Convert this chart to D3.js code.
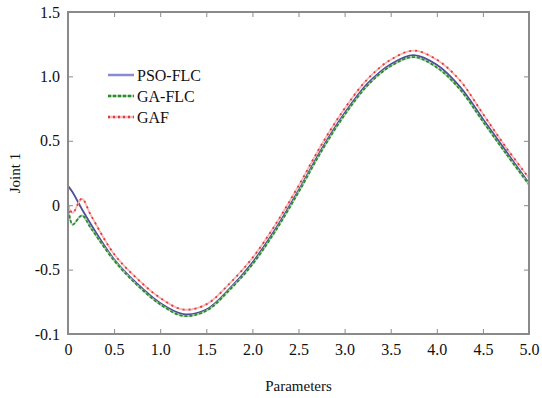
<!DOCTYPE html>
<html>
<head>
<meta charset="utf-8">
<script src="https://cdn.jsdelivr.net/npm/d3@7"></script>
<style>
  body { margin: 0; background: #fff; }
  text { font-family: "Liberation Serif", "Times New Roman", serif; fill: #111; }
</style>
</head>
<body>
<svg id="chart"></svg>
<script>
// valores
const tValues = [0, 0.05, 0.15, 0.25, 0.5, 0.75, 1.0, 1.25, 1.5, 1.75, 2.0, 2.25, 2.5,
  2.75, 3.0, 3.25, 3.5, 3.75, 4.0, 4.25, 4.5, 4.75, 5.0];
const psoFlc = [0.15, 0.10, -0.03, -0.15, -0.42, -0.61, -0.76, -0.845, -0.81, -0.65, -0.445, -0.185, 0.115,
  0.435, 0.715, 0.945, 1.095, 1.165, 1.09, 0.92, 0.67, 0.42, 0.17];
const gaFlc = [0.0, -0.15, -0.08, -0.18, -0.43, -0.62, -0.77, -0.86, -0.82, -0.66, -0.46, -0.20, 0.10,
  0.42, 0.70, 0.93, 1.08, 1.15, 1.07, 0.90, 0.65, 0.40, 0.16];
const gaf = [0.0, -0.06, 0.05, -0.08, -0.38, -0.57, -0.72, -0.81, -0.77, -0.61, -0.41, -0.15, 0.15,
  0.47, 0.75, 0.98, 1.13, 1.20, 1.13, 0.97, 0.71, 0.45, 0.21];

const xTicks = [0, 0.5, 1.0, 1.5, 2.0, 2.5, 3.0, 3.5, 4.0, 4.5, 5.0];
const xTickLabels = ["0", "0.5", "1.0", "1.5", "2.0", "2.5", "3.0", "3.5", "4.0", "4.5", "5.0"];
const yTicks = [-1.0, -0.5, 0, 0.5, 1.0, 1.5];
const yTickLabels = ["-0.1", "-0.5", "0", "0.5", "1.0", "1.5"];
const seriesNames = ["PSO-FLC", "GA-FLC", "GAF"];

const width = 542;
const height = 398;
const mLeft = 68, mRight = 529, mTop = 12, mBottom = 334;

const svg = d3.select("#chart")
  .attr("width", width)
  .attr("height", height);

const xScale = d3.scaleLinear().domain([0, 5]).range([mLeft, mRight]);
const yScale = d3.scaleLinear().domain([-1, 1.5]).range([mBottom, mTop]);

const line = d3.line()
  .x(d => xScale(d[0]))
  .y(d => yScale(d[1]))
  .curve(d3.curveCatmullRom.alpha(0.5));

const zip = vals => tValues.map((t, i) => [t, vals[i]]);

// curvas
svg.append("path").datum(zip(psoFlc))
  .attr("d", line).attr("fill", "none")
  .attr("stroke", "#4e4e9c").attr("stroke-width", 1.8);

svg.append("path").datum(zip(gaFlc))
  .attr("d", line).attr("fill", "none")
  .attr("stroke", "#a8d4a8").attr("stroke-width", 1.8);
svg.append("path").datum(zip(gaFlc))
  .attr("d", line).attr("fill", "none")
  .attr("stroke", "#2f8a2f").attr("stroke-width", 1.8)
  .attr("stroke-dasharray", "3,2");

svg.append("path").datum(zip(gaf))
  .attr("d", line).attr("fill", "none")
  .attr("stroke", "#f4b8b8").attr("stroke-width", 1.8);
svg.append("path").datum(zip(gaf))
  .attr("d", line).attr("fill", "none")
  .attr("stroke", "#e03a3a").attr("stroke-width", 1.8)
  .attr("stroke-dasharray", "2,4");

// marco y ticks hacia dentro
const frame = "#8a8a8a";
svg.append("rect")
  .attr("x", mLeft).attr("y", mTop)
  .attr("width", mRight - mLeft).attr("height", mBottom - mTop)
  .attr("fill", "none").attr("stroke", frame).attr("stroke-width", 2);

const xAxis = d3.axisBottom(xScale).tickValues(xTicks)
  .tickSize(-5).tickPadding(10).tickFormat((d, i) => xTickLabels[i]);
const xAxisTop = d3.axisTop(xScale).tickValues(xTicks).tickSize(-5).tickFormat("");
const yAxis = d3.axisLeft(yScale).tickValues(yTicks)
  .tickSize(-5).tickPadding(8).tickFormat((d, i) => yTickLabels[i]);
const yAxisRight = d3.axisRight(yScale).tickValues(yTicks).tickSize(-5).tickFormat("");

function styleAxis(g) {
  g.attr("font-family", "'Liberation Serif', serif");
  g.select(".domain").remove();
  g.selectAll(".tick line").attr("stroke", frame).attr("stroke-width", 1);
  g.selectAll(".tick text")
    .style("font-family", "'Liberation Serif', serif")
    .style("font-size", "16px").attr("fill", "#111");
}

svg.append("g").attr("transform", `translate(0,${mBottom})`).call(xAxis).call(styleAxis);
svg.append("g").attr("transform", `translate(0,${mTop})`).call(xAxisTop).call(styleAxis);
svg.append("g").attr("transform", `translate(${mLeft},0)`).call(yAxis).call(styleAxis);
svg.append("g").attr("transform", `translate(${mRight},0)`).call(yAxisRight).call(styleAxis);

// titulos de ejes
svg.append("text")
  .attr("x", (mLeft + mRight) / 2).attr("y", 391)
  .attr("text-anchor", "middle").style("font-size", "15px")
  .text("Parameters");

svg.append("text")
  .attr("transform", `translate(20,${(mTop + mBottom) / 2}) rotate(-90)`)
  .attr("text-anchor", "middle").style("font-size", "15px")
  .text("Joint 1");

// leyenda
const legendStyles = [
  { stroke: "#8a8ad8", dash: null, under: null },
  { stroke: "#2f8a2f", dash: "3,2", under: "#a8d4a8" },
  { stroke: "#e03a3a", dash: "2,3", under: "#f4b8b8" }
];
const legend = svg.append("g");
seriesNames.forEach((name, i) => {
  const y = 75 + i * 21;
  const s = legendStyles[i];
  if (s.under) {
    legend.append("line").attr("x1", 108).attr("x2", 134).attr("y1", y).attr("y2", y)
      .attr("stroke", s.under).attr("stroke-width", 2.5);
  }
  legend.append("line").attr("x1", 108).attr("x2", 134).attr("y1", y).attr("y2", y)
    .attr("stroke", s.stroke).attr("stroke-width", 2.5)
    .attr("stroke-dasharray", s.dash);
  legend.append("text").attr("x", 137).attr("y", y + 5.5)
    .style("font-size", "16px").text(name);
});
</script>
</body>
</html>
